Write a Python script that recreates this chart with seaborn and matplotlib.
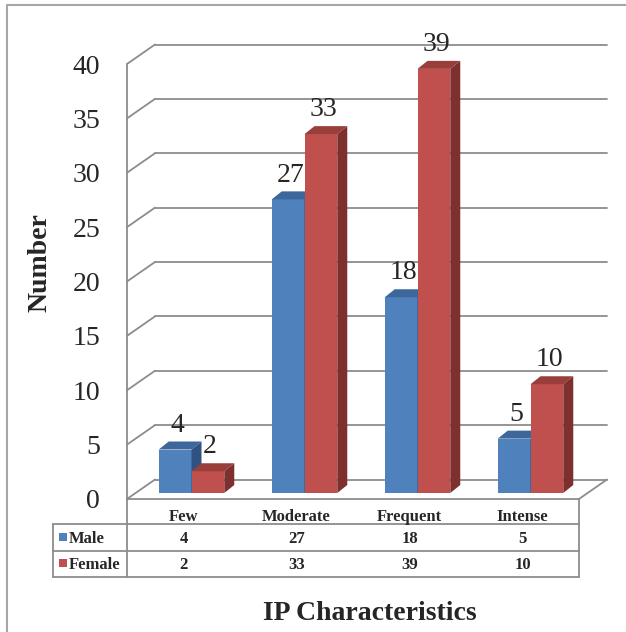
import pandas as pd
import matplotlib
matplotlib.use("Agg")
import matplotlib.pyplot as plt
from matplotlib.patches import Polygon, Rectangle
import seaborn as sns

categories = ["Few", "Moderate", "Frequent", "Intense"]
groups = ["Male", "Female"]
male = [4, 27, 18, 5]
female = [2, 33, 39, 10]
y_ticks = [0, 5, 10, 15, 20, 25, 30, 35, 40]

front_colors = {"Male": "#4F81BD", "Female": "#C0504D"}
top_colors = {"Male": "#3D679B", "Female": "#9A3E3B"}
side_colors = {"Male": "#2F5283", "Female": "#7D302E"}

df = pd.DataFrame({
    "category": categories * 2,
    "sex": ["Male"] * len(male) + ["Female"] * len(female),
    "count": male + female,
})

sns.set_theme(style="white")
plt.rcParams["font.family"] = ["Liberation Serif", "DejaVu Serif"]

W, H = 626, 632
fig = plt.figure(figsize=(W / 100, H / 100), dpi=100)
fig.patch.set_facecolor("white")

# pixel canvas for frame, data table and axis titles
cv = fig.add_axes([0, 0, 1, 1], zorder=0)
cv.set_xlim(0, W)
cv.set_ylim(H, 0)
cv.axis("off")

# main axes = front plane of the bars
L, R, BASE, TOP = 135, 587, 493, 58
ax = fig.add_axes([L / W, (H - BASE) / H, (R - L) / W, (BASE - TOP) / H], zorder=1)
ax.patch.set_visible(False)

sns.barplot(data=df, x="category", y="count", hue="sex",
            order=categories, hue_order=groups, palette=front_colors,
            saturation=1, width=0.58, linewidth=0, errorbar=None,
            legend=False, ax=ax)
ax.set_xlim(-0.5, len(categories) - 0.5)
ax.set_ylim(0, 40)
ax.set_xticks([])
ax.set_yticks([])
ax.set_xlabel("")
ax.set_ylabel("")
for s in ax.spines.values():
    s.set_visible(False)

# pixel -> data scale
PX = (R - L) / len(categories)
PY = (BASE - TOP) / 40
FX, FY = -8 / PX, -6 / PY      # front edge of floor/wall
BX, BY = 20 / PX, 13.5 / PY    # back wall
DX, DY = 10 / PX, 8 / PY       # bar depth

# ── 3D walls ──
grid = dict(color="#8C8C8C", lw=1.3, clip_on=False, zorder=1)
x0, x1 = -0.5, len(categories) - 0.5
for v in y_ticks:
    ax.plot([x0 + BX, x1 + BX], [v + BY, v + BY], **grid)
    ax.plot([x0 + FX, x0 + BX], [v + FY, v + BY], **grid)
ax.plot([x0 + FX, x0 + FX], [FY, 40 + FY], **grid)
ax.plot([x0 + FX, x1 + FX], [FY, FY], **grid)
ax.plot([x1 + FX, x1 + BX], [FY, BY], **grid)

for v in y_ticks:
    ax.text(x0 + (100 - L) / PX, v + FY - 3 / PY, str(v), ha="right",
            va="center", fontsize=20, clip_on=False)

# ── bar tops, sides and value labels ──
for grp, cont, z in zip(groups, ax.containers, [3, 4]):
    for bar in cont:
        bx, bw, bh = bar.get_x(), bar.get_width(), bar.get_height()
        bar.set_zorder(z)
        top = Polygon([(bx, bh), (bx + bw, bh), (bx + bw + DX, bh + DY), (bx + DX, bh + DY)],
                      closed=True, facecolor=top_colors[grp], edgecolor="none",
                      zorder=z + 0.1, clip_on=False)
        side = Polygon([(bx + bw, 0), (bx + bw + DX, DY), (bx + bw + DX, bh + DY), (bx + bw, bh)],
                       closed=True, facecolor=side_colors[grp], edgecolor="none",
                       zorder=z + 0.1, clip_on=False)
        ax.add_patch(top)
        ax.add_patch(side)
        ax.annotate(f"{bh:g}", (bx + bw / 2, bh), xytext=(1.5, 17.5),
                    textcoords="offset points", ha="center", va="center",
                    fontsize=20, zorder=6, annotation_clip=False)

# ── data table ──
tc = dict(color="#8C8C8C", lw=1.3)
FL, FR, FLOOR = L - 8, R - 8, BASE + 6
rows_y = [543, 569]
for y in [524, 551, 577]:
    cv.plot([53, FR], [y, y], **tc)
cv.plot([53, 53], [524, 577], **tc)
cv.plot([FL, FL], [FLOOR, 577], **tc)
cv.plot([FR, FR], [FLOOR, 577], **tc)

cell = dict(ha="center", va="baseline", fontsize=12, fontweight="bold")
for i, cat in enumerate(categories):
    cx = FL + (i + 0.5) * PX
    cv.text(cx, 521, cat, **cell)
    cv.text(cx, rows_y[0], str(male[i]), **cell)
    cv.text(cx, rows_y[1], str(female[i]), **cell)

for grp, y in zip(groups, rows_y):
    cv.add_patch(Rectangle((59, y - 10), 8, 8, facecolor=front_colors[grp], edgecolor="none"))
    cv.text(69, y, grp, ha="left", va="baseline", fontsize=12, fontweight="bold")

cv.text(40, 263, "Number", rotation=90, ha="center", va="center", fontsize=20, fontweight="bold")
cv.text(370, 613, "IP Characteristics", ha="center", va="center", fontsize=20, fontweight="bold")

# outer frame
cv.plot([7, 7], [5, H], color="#A6A6A6", lw=1.5)
cv.plot([7, W], [5, 5], color="#A6A6A6", lw=1.5)

fig.savefig("out.png", dpi=100)
plt.close(fig)
